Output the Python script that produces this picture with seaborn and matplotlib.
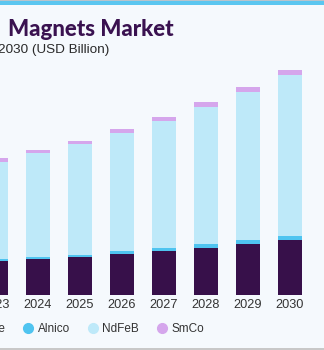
import matplotlib
matplotlib.use("Agg")
import matplotlib.pyplot as plt
from matplotlib.lines import Line2D
import seaborn as sns
import numpy as np
import pandas as pd

years = ["2023", "2024", "2025", "2026", "2027", "2028", "2029", "2030"]
ferrite = [3.40, 3.57, 3.80, 4.10, 4.40, 4.73, 5.10, 5.50]
alnico = [0.20, 0.20, 0.23, 0.30, 0.30, 0.34, 0.37, 0.40]
ndfeb = [9.70, 10.40, 11.07, 11.83, 12.70, 13.70, 14.80, 16.10]
smco = [0.40, 0.35, 0.30, 0.37, 0.43, 0.50, 0.50, 0.53]

series_names = ["Ferrite", "Alnico", "NdFeB", "SmCo"]
series_vals = [ferrite, alnico, ndfeb, smco]
colors = ["#37104A", "#4FC4F0", "#BEE9F9", "#D5A6EC"]

title = "Magnets Market"
subtitle = "2030 (USD Billion)"

BG = "#F5F9FD"
sns.set_theme(style="white")
plt.rcParams["font.family"] = ["Liberation Sans", "DejaVu Sans"]

W, H = 324, 350
fig = plt.figure(figsize=(W / 100, H / 100), dpi=100, facecolor=BG)

ax = fig.add_axes([-25 / W, 55 / H, 336 / W, 235 / H])
ax.set_facecolor(BG)

df = pd.DataFrame({"year": years})
cum = np.zeros(len(years))
for name, vals in zip(series_names, series_vals):
    cum = cum + np.array(vals)
    df[name] = cum.copy()

# draw from top layer down so stacks overlay correctly
for name, col in reversed(list(zip(series_names, colors))):
    sns.barplot(data=df, x="year", y=name, order=years, color=col,
                width=0.57, linewidth=0, saturation=1, ax=ax)

ax.set_xlim(-0.5, 7.5)
ax.set_ylim(0, 23.5)
for s in ax.spines.values():
    s.set_visible(False)
ax.set_yticks([])
ax.set_xlabel("")
ax.set_ylabel("")
ax.tick_params(axis="x", length=0, pad=3, labelsize=9.2, labelcolor="#333333")

# title & subtitle
fig.text(8 / W, 1 - 35.7 / H, title, fontsize=16, fontweight="black",
         family=["Lato", "DejaVu Sans"],
         color="#3A1250", ha="left", va="baseline")
fig.text(-2 / W, 1 - 53 / H, subtitle, fontsize=9.7, color="#2A2A2A",
         ha="left", va="baseline")

# top band and bottom line
fig.add_artist(plt.Rectangle((0, 1 - 5 / H), 1, 4 / H, transform=fig.transFigure,
                             color="#5BC6F0", lw=0))
fig.add_artist(plt.Rectangle((0, 1 - 1 / H), 1, 1 / H, transform=fig.transFigure,
                             color="#B8C4CC", lw=0))
fig.add_artist(plt.Rectangle((0, 0), 1, 2 / H, transform=fig.transFigure,
                             color="#C8C8C8", lw=0))

handles = [Line2D([0], [0], marker="o", linestyle="", markersize=7,
                  markerfacecolor=c, markeredgecolor=c) for c in colors]
fig.legend(handles, series_names, loc="center left",
           bbox_to_anchor=(-44 / W, 21 / H), ncol=4, frameon=False,
           fontsize=8.5, handlelength=1.0, handletextpad=0.3,
           columnspacing=1.45, borderpad=0, borderaxespad=0,
           labelcolor="#333333")

fig.savefig("out.png", dpi=100, facecolor=BG)
